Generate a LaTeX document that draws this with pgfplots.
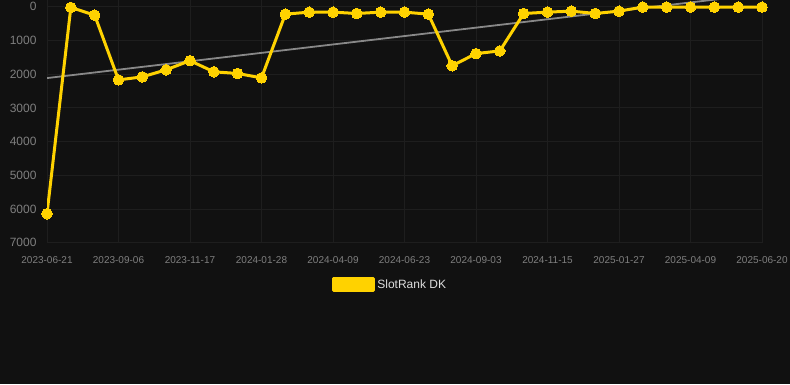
\documentclass[border=0pt]{standalone}
\usepackage{fontspec}
\setmainfont{Liberation Sans}
\usepackage{pgfplots}
\pgfplotsset{compat=1.18}
\definecolor{bg}{HTML}{111111}
\definecolor{gridc}{HTML}{1E1E1E}
\definecolor{tickc}{HTML}{7F7F7F}
\definecolor{gold}{HTML}{FFD200}
\definecolor{trend}{HTML}{888888}
\definecolor{legc}{HTML}{DDDDDD}
\begin{document}
\begin{tikzpicture}[x=1pt,y=1pt]
\useasboundingbox (0,0) rectangle (790,384);
\fill[bg] (0,0) rectangle (790,384);
\begin{axis}[
  at={(47pt,141.3pt)}, anchor=south west,
  scale only axis, width=715pt, height=242.7pt,
  xmin=0, xmax=30, ymin=-200, ymax=7000, y dir=reverse,
  xtick={0,3,...,30},
  xticklabels={2023-06-21,2023-09-06,2023-11-17,2024-01-28,2024-04-09,2024-06-23,2024-09-03,2024-11-15,2025-01-27,2025-04-09,2025-06-20},
  ytick={0,1000,...,7000},
  grid=major, grid style={gridc, line width=0.8pt},
  major tick length=0pt,
  axis line style={draw=none},
  tick label style={text=tickc},
  xticklabel style={font=\fontsize{10}{12}\selectfont, yshift=-10.5pt},
  yticklabel style={font=\fontsize{12}{14}\selectfont, xshift=-7pt},
  /pgf/number format/assume math mode=true,
  /pgf/number format/1000 sep={},
  scaled y ticks=false,
  legend style={at={(0.48,-0.174)}, anchor=center, draw=none, fill=none, text=legc, font=\fontsize{12}{14}\selectfont},
  legend cell align=left,
]
\addplot[trend, line width=1.8pt, forget plot] coordinates {(0,2116) (30,-377)};
\addplot[gold, line width=3pt, line join=round, mark=*, mark size=5.3pt,
  mark options={fill=gold, draw=gold, line width=0pt},
  legend image code/.code={\fill[gold] (0pt,-6pt) rectangle (40pt,6pt);}]
  coordinates {
  (0,6140) (1,20) (2,250) (3,2170) (4,2080) (5,1870) (6,1600) (7,1930) (8,1980) (9,2110)
  (10,220) (11,160) (12,160) (13,200) (14,160) (15,160) (16,220) (17,1750) (18,1390) (19,1310)
  (20,200) (21,160) (22,130) (23,200) (24,130) (25,10) (26,10) (27,10) (28,10) (29,10) (30,10)
  };
\addlegendentry{SlotRank DK}
\end{axis}
\end{tikzpicture}
\end{document}
